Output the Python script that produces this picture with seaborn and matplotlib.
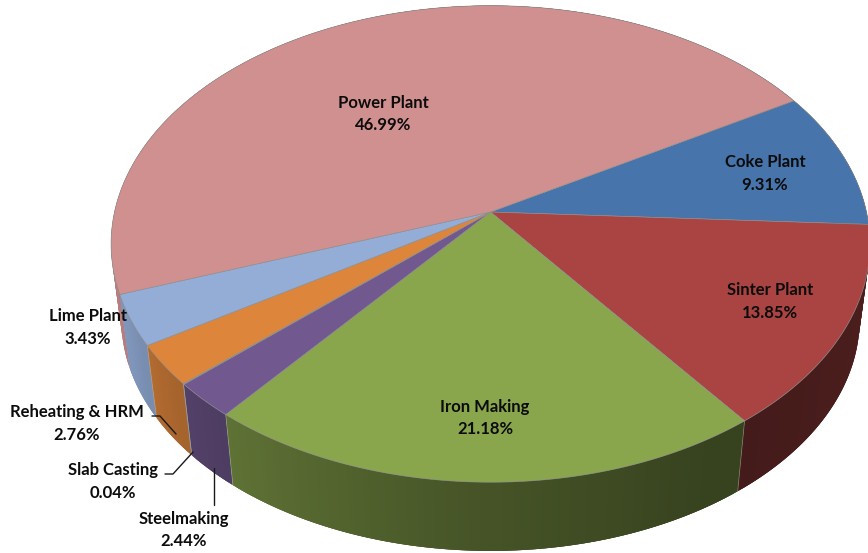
import numpy as np
import matplotlib
matplotlib.use("Agg")
import matplotlib.pyplot as plt
import seaborn as sns

# Emissions share per plant area, clockwise from the Coke Plant slice
categories = ["Coke Plant", "Sinter Plant", "Iron Making", "Steelmaking",
              "Slab Casting", "Reheating & HRM", "Lime Plant", "Power Plant"]
shares = [9.31, 13.85, 21.18, 2.44, 0.04, 2.76, 3.43, 46.99]
slice_colors = ["#4674AB", "#AA4442", "#8AA64D", "#71588F",
                "#3FA0B8", "#DE853C", "#93ADD7", "#D19090"]

sns.set_theme(style="white")
plt.rcParams["font.family"] = ["Lato", "DejaVu Sans"]
palette = sns.color_palette(slice_colors)

# Perspective model of the tilted disc, in pixel-like axis units
APEX = (490.5, 212.0)
RX, RY, TILT = 376.0, 234.0, 0.134
START_DEG = 30.5
RIM_SCALE = 0.973
RIM_APEX_Y = 288.0


def project(theta, scale=1.0, apex_y=APEX[1]):
    u, v = np.cos(theta), np.sin(theta)
    w = 1 + TILT * v
    return APEX[0] + scale * RX * u / w, apex_y - scale * RY * v / w


def wall_shade(theta_deg):
    # Light falls from the left: walls darken towards the right-hand side
    t = (theta_deg + 360) % 360
    t = t - 360 if t > 300 else t
    return np.interp(t, [-60, -53, -20, 0, 90, 180, 205, 225, 270, 300],
                     [0.40, 0.40, 0.44, 0.46, 0.6, 0.9, 0.86, 0.72, 0.50, 0.40])


fig = plt.figure(figsize=(8.68, 5.53), dpi=100)
ax = fig.add_axes([0, 0, 1, 1])
ax.set_xlim(0, 868)
ax.set_ylim(553, 0)
ax.axis("off")

# Convert the shares into angular spans
spans = np.array(shares) / sum(shares) * 360.0
ends = START_DEG - np.cumsum(spans)
starts = ends + spans

# Side wall: small quads sorted back to front, each overlapping the one behind
STEP = 0.75
quads = []
for start, end, color in zip(starts, ends, palette):
    edges = np.linspace(start, end, max(2, int(abs(start - end) / STEP) + 1))
    for a, b in zip(edges[:-1], edges[1:]):
        mid = (a + b) / 2
        quads.append((np.sin(np.radians(mid)), a, b, mid, color, start, end))
quads.sort(key=lambda q: -q[0])
for _, a, b, mid, color, start, end in quads:
    lo = max(min(a, b) - STEP, end)
    hi = min(max(a, b) + STEP, start)
    tl, th = np.radians(lo), np.radians(hi)
    x1, y1 = project(tl)
    x2, y2 = project(th)
    x3, y3 = project(th, RIM_SCALE, RIM_APEX_Y)
    x4, y4 = project(tl, RIM_SCALE, RIM_APEX_Y)
    shade = tuple(c * wall_shade(mid) for c in color)
    ax.fill([x1, x2, x3, x4], [y1, y2, y3, y4], color=shade, lw=0, zorder=2)

# Light seams where neighbouring wall sections meet
for boundary in [starts[2], starts[3], starts[5], starts[6]]:
    t = np.radians(boundary)
    x0, y0 = project(t)
    x1, y1 = project(t, RIM_SCALE, RIM_APEX_Y)
    ax.plot([x0, x1], [y0, y1], color="#c9c9b8", lw=0.5, alpha=0.5, zorder=3)

# Top face
for start, end, color in zip(starts, ends, palette):
    th = np.radians(np.linspace(start, end, max(3, int(abs(start - end) * 2))))
    x, y = project(th)
    ax.fill(np.r_[APEX[0], x], np.r_[APEX[1], y], facecolor=color,
            edgecolor="#8d8d8d", lw=0.45, zorder=4)

# Data labels
label_pos = {
    "Coke Plant": (765, 162), "Sinter Plant": (770, 290),
    "Iron Making": (485, 407), "Steelmaking": (184, 519),
    "Slab Casting": (113, 470), "Reheating & HRM": (77, 412),
    "Lime Plant": (88, 316), "Power Plant": (383, 103),
}
for name, share in zip(categories, shares):
    x, y = label_pos[name]
    ax.text(x, y, name, ha="center", va="center", fontsize=12,
            fontweight="bold", color="#0c0c0c", zorder=6)
    ax.text(x, y + 22.5, f"{share:.2f}%", ha="center", va="center", fontsize=12,
            fontweight="bold", color="#0c0c0c", zorder=6)

# Leader lines for the small outer labels
leaders = [([152, 160, 176], [416, 416, 434]),
           ([165, 173, 193], [474, 474, 452]),
           ([214, 214], [468, 505])]
for lx, ly in leaders:
    ax.plot(lx, ly, color="#1a1a1a", lw=1.0, zorder=5)

fig.savefig("out.png", dpi=100, facecolor="white")
